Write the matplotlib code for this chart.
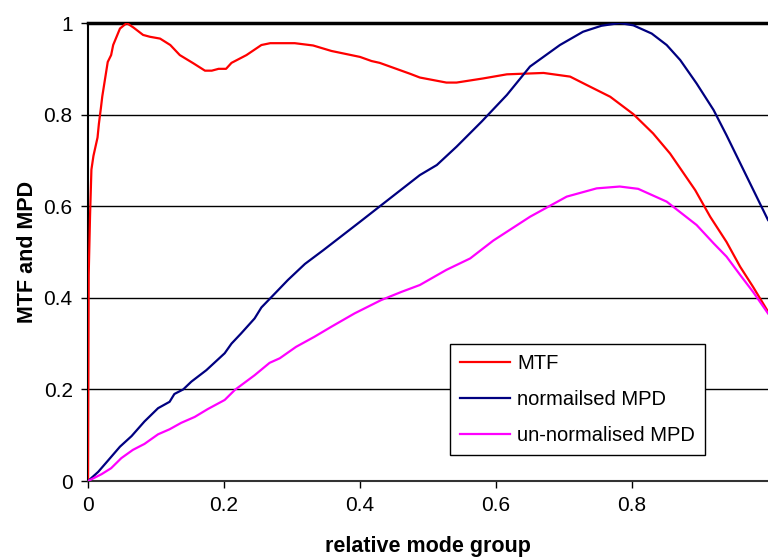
import numpy as np
import matplotlib
matplotlib.use('Agg')
import matplotlib.pyplot as plt

plt.rcParams['font.family'] = ['Liberation Sans', 'DejaVu Sans']

# MTF curve (red)
mtf_x = [0.0, 0.001, 0.003, 0.005, 0.008, 0.014, 0.016, 0.019, 0.021, 0.029, 0.034,
         0.037, 0.047, 0.057, 0.067, 0.081, 0.091, 0.106, 0.121, 0.135, 0.155,
         0.172, 0.182, 0.192, 0.203, 0.211, 0.233, 0.255, 0.268, 0.304, 0.331,
         0.358, 0.40, 0.417, 0.429, 0.474, 0.488, 0.527, 0.542, 0.581, 0.616,
         0.670, 0.709, 0.733, 0.768, 0.802, 0.831, 0.856, 0.893, 0.915, 0.939,
         0.959, 0.978, 1.0]
mtf_y = [0.0, 0.45, 0.58, 0.68, 0.71, 0.75, 0.78, 0.815, 0.84, 0.915, 0.93,
         0.952, 0.988, 1.0, 0.99, 0.974, 0.97, 0.966, 0.952, 0.930, 0.912,
         0.896, 0.896, 0.900, 0.900, 0.913, 0.930, 0.952, 0.956, 0.956, 0.951,
         0.939, 0.926, 0.917, 0.913, 0.889, 0.881, 0.870, 0.870, 0.879, 0.888,
         0.891, 0.883, 0.865, 0.839, 0.801, 0.759, 0.715, 0.635, 0.577, 0.522,
         0.468, 0.424, 0.370]

# normalised MPD (navy)
norm_x = [0.0, 0.015, 0.029, 0.047, 0.064, 0.083, 0.103, 0.120, 0.127, 0.14,
          0.152, 0.174, 0.201, 0.211, 0.225, 0.245, 0.255, 0.27, 0.294, 0.319,
          0.346, 0.40, 0.45, 0.488, 0.513, 0.542, 0.579, 0.616, 0.65, 0.694,
          0.728, 0.755, 0.782, 0.802, 0.829, 0.851, 0.871, 0.895, 0.920, 0.939,
          0.969, 1.0]
norm_y = [0.0, 0.02, 0.044, 0.075, 0.098, 0.13, 0.159, 0.173, 0.19, 0.20,
          0.217, 0.242, 0.279, 0.30, 0.322, 0.355, 0.379, 0.402, 0.439, 0.474,
          0.504, 0.566, 0.624, 0.668, 0.690, 0.730, 0.785, 0.843, 0.905, 0.952,
          0.981, 0.994, 1.0, 0.995, 0.977, 0.952, 0.919, 0.868, 0.810, 0.755,
          0.664, 0.570]

# un-normalised MPD (magenta)
unnorm_x = [0.0, 0.02, 0.034, 0.049, 0.066, 0.083, 0.103, 0.12, 0.137, 0.157,
            0.176, 0.201, 0.216, 0.245, 0.267, 0.282, 0.306, 0.333, 0.358, 0.392,
            0.431, 0.461, 0.488, 0.527, 0.562, 0.596, 0.65, 0.704, 0.748, 0.782,
            0.809, 0.851, 0.895, 0.92, 0.939, 0.959, 0.978, 1.0]
unnorm_y = [0.0, 0.015, 0.028, 0.05, 0.068, 0.081, 0.102, 0.113, 0.127, 0.14,
            0.157, 0.177, 0.199, 0.231, 0.258, 0.268, 0.293, 0.315, 0.337, 0.366,
            0.395, 0.413, 0.428, 0.461, 0.486, 0.525, 0.577, 0.621, 0.639, 0.643,
            0.638, 0.61, 0.559, 0.519, 0.49, 0.45, 0.413, 0.366]

fig = plt.figure(figsize=(7.68, 5.59), dpi=100)
ax = fig.add_axes([0.1146, 0.1395, 0.8854, 0.8193])

ax.plot(mtf_x, mtf_y, color='#ff0000', lw=1.6, label='MTF', zorder=3)
ax.plot(norm_x, norm_y, color='#000080', lw=1.6, label='normailsed MPD', zorder=3)
ax.plot(unnorm_x, unnorm_y, color='#ff00ff', lw=1.6, label='un-normalised MPD', zorder=3)

ax.set_xlim(0, 1)
ax.set_ylim(0, 1)
ax.set_xticks([0, 0.2, 0.4, 0.6, 0.8])
ax.set_xticklabels(['0', '0.2', '0.4', '0.6', '0.8'])
ax.set_yticks([0, 0.2, 0.4, 0.6, 0.8, 1.0])
ax.set_yticklabels(['0', '0.2', '0.4', '0.6', '0.8', '1'])
ax.tick_params(direction='out', length=5, width=1, labelsize=15, pad=6)

# horizontal gridlines
for yv in [0.2, 0.4, 0.6, 0.8]:
    ax.axhline(yv, color='black', lw=1, zorder=1)

ax.spines['top'].set_linewidth(2.5)
ax.spines['left'].set_linewidth(1.5)
ax.spines['bottom'].set_linewidth(1.5)
ax.spines['bottom'].set_color('#333333')
ax.spines['right'].set_visible(False)

ax.set_xlabel('relative mode group', fontsize=15.5, fontweight='bold', labelpad=15)
ax.set_ylabel('MTF and MPD', fontsize=15.5, fontweight='bold', labelpad=4)

leg = ax.legend(loc='lower left', bbox_to_anchor=(0.532, 0.057), borderaxespad=0,
                fancybox=False, framealpha=1, edgecolor='black', fontsize=14.5,
                handlelength=2.5, handletextpad=0.35, labelspacing=0.85,
                borderpad=0.5)
leg.get_frame().set_linewidth(1)

fig.savefig('out.png', dpi=100)
